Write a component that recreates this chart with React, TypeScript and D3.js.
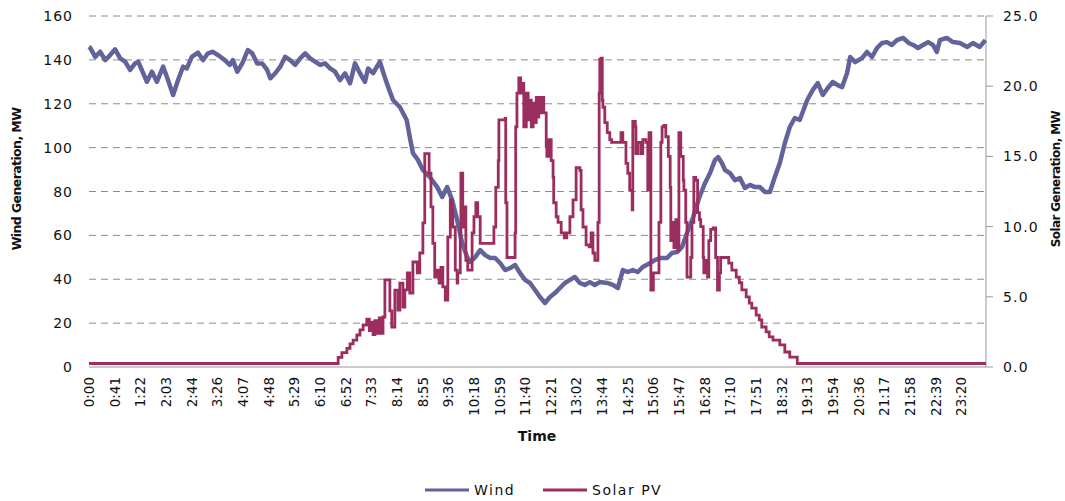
import React from "react";
import * as d3 from "d3";

// ---- data (time in minutes after midnight) ----
const windSeries: [number, number][] = [
  [0,146],[2,145.5],[10,141.4],[18,143.7],[26,139.9],[34,142.2],[42,144.8],[50,140.7],[58,139.2],[66,135.4],
  [74,138.4],[79,139.2],[87,133.9],[93,130],[101,134.6],[109,130],[119,136.9],[125,132.3],[135,124],[143,130.8],
  [151,136.9],[157,136.1],[165,141.4],[175,143.3],[183,139.9],[191,143],[199,143.7],[207,142.2],[218,139.9],[226,137.7],
  [231,139.9],[238,134.6],[246,138.4],[255,144.5],[262,143],[270,138.4],[278,138.4],[286,135.4],[291,131.6],[299,133.9],
  [307,136.9],[315,141.4],[323,139.9],[331,137.7],[339,140.7],[347,143],[355,140.7],[363,139.2],[371,137.7],[379,138.4],
  [387,136.1],[395,134.6],[403,130.8],[411,133.9],[419,129.3],[427,138.4],[435,133.9],[443,130],[448,136.1],[456,133.9],
  [467,139.2],[472,134.6],[478,129.4],[488,121.7],[499,118.5],[510,112.6],[515,104.8],[520,97.5],[528,94.4],[536,89.8],
  [547,86.6],[559,82],[567,77.5],[575,82],[583,76.1],[591,67],[599,56.5],[607,50.1],[612,47.9],[620,50.1],
  [628,53.3],[636,51],[644,49.7],[652,49.7],[660,47.4],[668,44.2],[676,45.1],[684,46.5],[692,42.8],[700,39.7],
  [708,38.3],[716,35.1],[724,31.9],[732,29.2],[740,31.9],[748,33.7],[756,36],[764,38.3],[772,39.7],[780,41],
  [788,38.3],[796,37.4],[804,38.7],[812,37.4],[820,38.7],[832,38.3],[841,37.4],[849,36],[857,44.2],[865,43.3],
  [873,44.2],[881,43.3],[889,45.6],[901,47.4],[909,48.8],[917,49.7],[928,49.7],[936,52],[944,52.4],[952,54.7],
  [960,61],[970,68.4],[980,77.5],[989,83.9],[997,88.4],[1005,94.4],[1010,95.7],[1016,93],[1021,89.8],[1029,88.4],
  [1037,85.2],[1045,86.1],[1053,81.6],[1061,83],[1069,82],[1077,82],[1085,79.8],[1093,79.8],[1101,86.6],[1109,93],
  [1117,102],[1125,109.4],[1133,113.5],[1141,112.6],[1153,121.7],[1162,126.3],[1170,129.4],[1178,124],[1186,127.2],[1194,129.9],
  [1202,128.5],[1209,127.6],[1217,134],[1222,141.3],[1230,139],[1241,140.8],[1249,143.6],[1257,141.3],[1265,145.4],[1273,147.7],
  [1281,148.1],[1289,146.8],[1297,149],[1307,150],[1316,147.7],[1323,146.8],[1331,145.4],[1339,146.8],[1347,148.1],[1355,146.8],
  [1361,143.6],[1366,149],[1377,150],[1387,148.1],[1398,147.7],[1410,145.9],[1419,147.7],[1430,145.9],[1439,149],
];

const solarSeries: [number, number][] = [
  [0,0.25],[400,0.69],[406,1.02],[414,1.33],[419,1.64],[424,1.92],[430,2.28],[435,2.64],[440,2.99],[446,3.4],
  [450,2.6],[453,3.2],[456,2.3],[459,3.3],[462,2.4],[466,3.5],[469,2.4],[472,3.56],[475,6.2],[483,4.0],
  [486,2.85],[491,5.48],[496,4.06],[499,5.98],[504,4.27],[507,5.5],[511,6.7],[515,5.27],[520,7.48],[527,6.7],
  [531,8.12],[536,10.26],[539,15.2],[546,13.8],[549,11.4],[552,8.8],[555,6.4],[559,6.9],[562,5.98],[565,7.1],
  [568,5.7],[572,4.77],[576,9.26],[580,11.9],[583,11.2],[584,9.97],[588,6.9],[591,5.98],[592,6.7],[596,9.55],
  [597,13.8],[600,9.97],[604,11.4],[605,7.6],[608,6.9],[615,9.55],[618,10.7],[621,11.7],[624,10.7],[628,8.8],
  [650,9.97],[653,12.8],[657,14.7],[658,17.6],[668,17.7],[669,11.7],[671,7.8],[684,9.55],[685,17.1],[687,19.5],
  [690,20.6],[693,19.5],[697,20.2],[698,17.1],[702,19.5],[705,17.6],[706,19.0],[710,17.1],[713,18.8],[714,17.4],
  [718,19.2],[719,17.8],[722,19.2],[724,18.1],[727,19.2],[730,18.1],[734,15.7],[735,15.0],[738,16.2],[742,14.7],
  [745,13.5],[746,11.7],[750,10.7],[753,10.3],[758,9.55],[763,9.2],[767,9.55],[772,10.7],[777,11.9],[782,14.2],
  [788,14.0],[790,11.2],[793,9.97],[798,8.7],[803,8.55],[806,9.55],[809,8.12],[812,7.6],[817,10.3],[819,19.5],
  [820,21.9],[822,22.0],[824,19.0],[825,18.5],[828,17.4],[832,16.7],[836,16.2],[839,16.0],[854,16.7],[857,16.0],
  [862,14.5],[865,13.8],[868,12.6],[872,11.2],[873,17.5],[877,17.1],[878,15.2],[881,16.0],[886,15.2],[889,16.2],
  [894,16.0],[897,12.6],[899,16.7],[902,5.48],[906,6.7],[915,10.3],[918,16.0],[920,17.1],[923,17.2],[926,16.4],
  [930,15.0],[933,12.8],[934,9.0],[937,10.3],[939,8.5],[942,10.5],[945,8.3],[947,16.7],[950,15.0],[954,13.3],
  [955,12.6],[958,10.3],[960,6.4],[966,7.8],[968,10.3],[971,13.5],[974,13.3],[977,11.0],[980,10.5],[982,10.0],
  [986,7.8],[987,6.7],[990,7.6],[993,6.4],[995,9.0],[998,9.8],[1002,9.9],[1006,7.8],[1009,5.48],[1012,6.7],
  [1014,7.8],[1027,7.4],[1032,6.9],[1039,6.4],[1044,6.0],[1048,5.5],[1055,5.0],[1060,4.55],[1064,4.2],[1071,3.7],
  [1076,3.35],[1080,2.85],[1087,2.5],[1092,2.14],[1098,1.92],[1109,1.57],[1117,1.07],[1125,0.71],[1137,0.25],[1440,0.25],
];

const xTickLabels = [
  "0:00","0:41","1:22","2:03","2:44","3:26","4:07","4:48","5:29","6:10","6:52","7:33",
  "8:14","8:55","9:36","10:18","10:59","11:40","12:21","13:02","13:44","14:25","15:06","15:47",
  "16:28","17:10","17:51","18:32","19:13","19:54","20:36","21:17","21:58","22:39","23:20",
];
const xLabelStepMinutes = 41.2;
const windTicks = [0, 20, 40, 60, 80, 100, 120, 140, 160];
const solarTicks = [0, 5, 10, 15, 20, 25];
const seriesNames = ["Wind", "Solar PV"];

const WIND_COLOR = "#63639B";
const SOLAR_COLOR = "#9B2D5F";
const FONT = "'DejaVu Sans', Verdana, sans-serif";

export default function App() {
  const W = 1065, H = 501;
  const left = 89, right = 986, top = 16, bottom = 367;

  const x = d3.scaleLinear().domain([0, 1440]).range([left, right]);
  const yW = d3.scaleLinear().domain([0, 160]).range([bottom, top]);
  const yS = d3.scaleLinear().domain([0, 25]).range([bottom, top]);

  const windLine = d3.line<[number, number]>().x(d => x(d[0])).y(d => yW(d[1])).curve(d3.curveLinear);
  const solarLine = d3.line<[number, number]>().x(d => x(d[0])).y(d => yS(d[1])).curve(d3.curveStepAfter);

  return (
    <svg width={W} height={H} style={{ position: "absolute", left: 0, top: 0, background: "#fff" }}>
      {/* grid */}
      {windTicks.filter(t => t > 0).map(t => (
        <line key={t} x1={left} x2={right} y1={yW(t)} y2={yW(t)} stroke="#8c8c8c" strokeWidth={1} strokeDasharray="7,5" />
      ))}
      {/* left tick labels */}
      {windTicks.map(t => (
        <text key={"wl" + t} x={73} y={yW(t)} dy="0.36em" textAnchor="end" fontFamily={FONT} fontSize={14} letterSpacing={1} fill="#111">{t}</text>
      ))}
      {/* right axis */}
      <line x1={right} x2={right} y1={top} y2={bottom} stroke="#999" strokeWidth={1} />
      {solarTicks.map(t => (
        <g key={"sr" + t}>
          <line x1={right} x2={right + 7} y1={yS(t)} y2={yS(t)} stroke="#999" strokeWidth={1} />
          <text x={1003} y={yS(t)} dy="0.36em" fontFamily={FONT} fontSize={14} letterSpacing={1.2} fill="#111">{t.toFixed(1)}</text>
        </g>
      ))}
      {/* bottom axis */}
      <line x1={left} x2={right} y1={bottom} y2={bottom} stroke="#999" strokeWidth={1} />
      {xTickLabels.map((lab, i) => {
        const px = x(i * xLabelStepMinutes);
        return (
          <text key={lab} transform={`translate(${px},${bottom + 10}) rotate(-90)`} dy="0.36em" textAnchor="end"
            fontFamily={FONT} fontSize={13.5} fill="#111">{lab}</text>
        );
      })}
      {/* series */}
      <path d={windLine(windSeries) || ""} fill="none" stroke={WIND_COLOR} strokeWidth={4.5} strokeLinejoin="round" />
      <path d={solarLine(solarSeries) || ""} fill="none" stroke={SOLAR_COLOR} strokeWidth={2.8} strokeLinejoin="miter" />
      {/* axis titles */}
      <text transform="translate(17,179) rotate(-90)" dy="0.35em" textAnchor="middle" fontFamily={FONT} fontWeight="bold" fontSize={12.5} letterSpacing={-0.6} fill="#111">Wind Generation, MW</text>
      <text transform="translate(1056,179) rotate(-90)" dy="0.35em" textAnchor="middle" fontFamily={FONT} fontWeight="bold" fontSize={12} letterSpacing={-0.6} fill="#111">Solar Generation, MW</text>
      <text x={537} y={436} dy="0.35em" textAnchor="middle" fontFamily={FONT} fontWeight="bold" fontSize={14} fill="#111">Time</text>
      {/* legend */}
      {seriesNames.map((name, i) => {
        const lx = i === 0 ? 425 : 543;
        return (
          <g key={name}>
            <line x1={lx} x2={lx + 44} y1={490} y2={490} stroke={i === 0 ? WIND_COLOR : SOLAR_COLOR} strokeWidth={3} />
            <text x={lx + 49} y={490} dy="0.36em" fontFamily={FONT} fontSize={14} letterSpacing={1.5} fill="#111">{name}</text>
          </g>
        );
      })}
    </svg>
  );
}
